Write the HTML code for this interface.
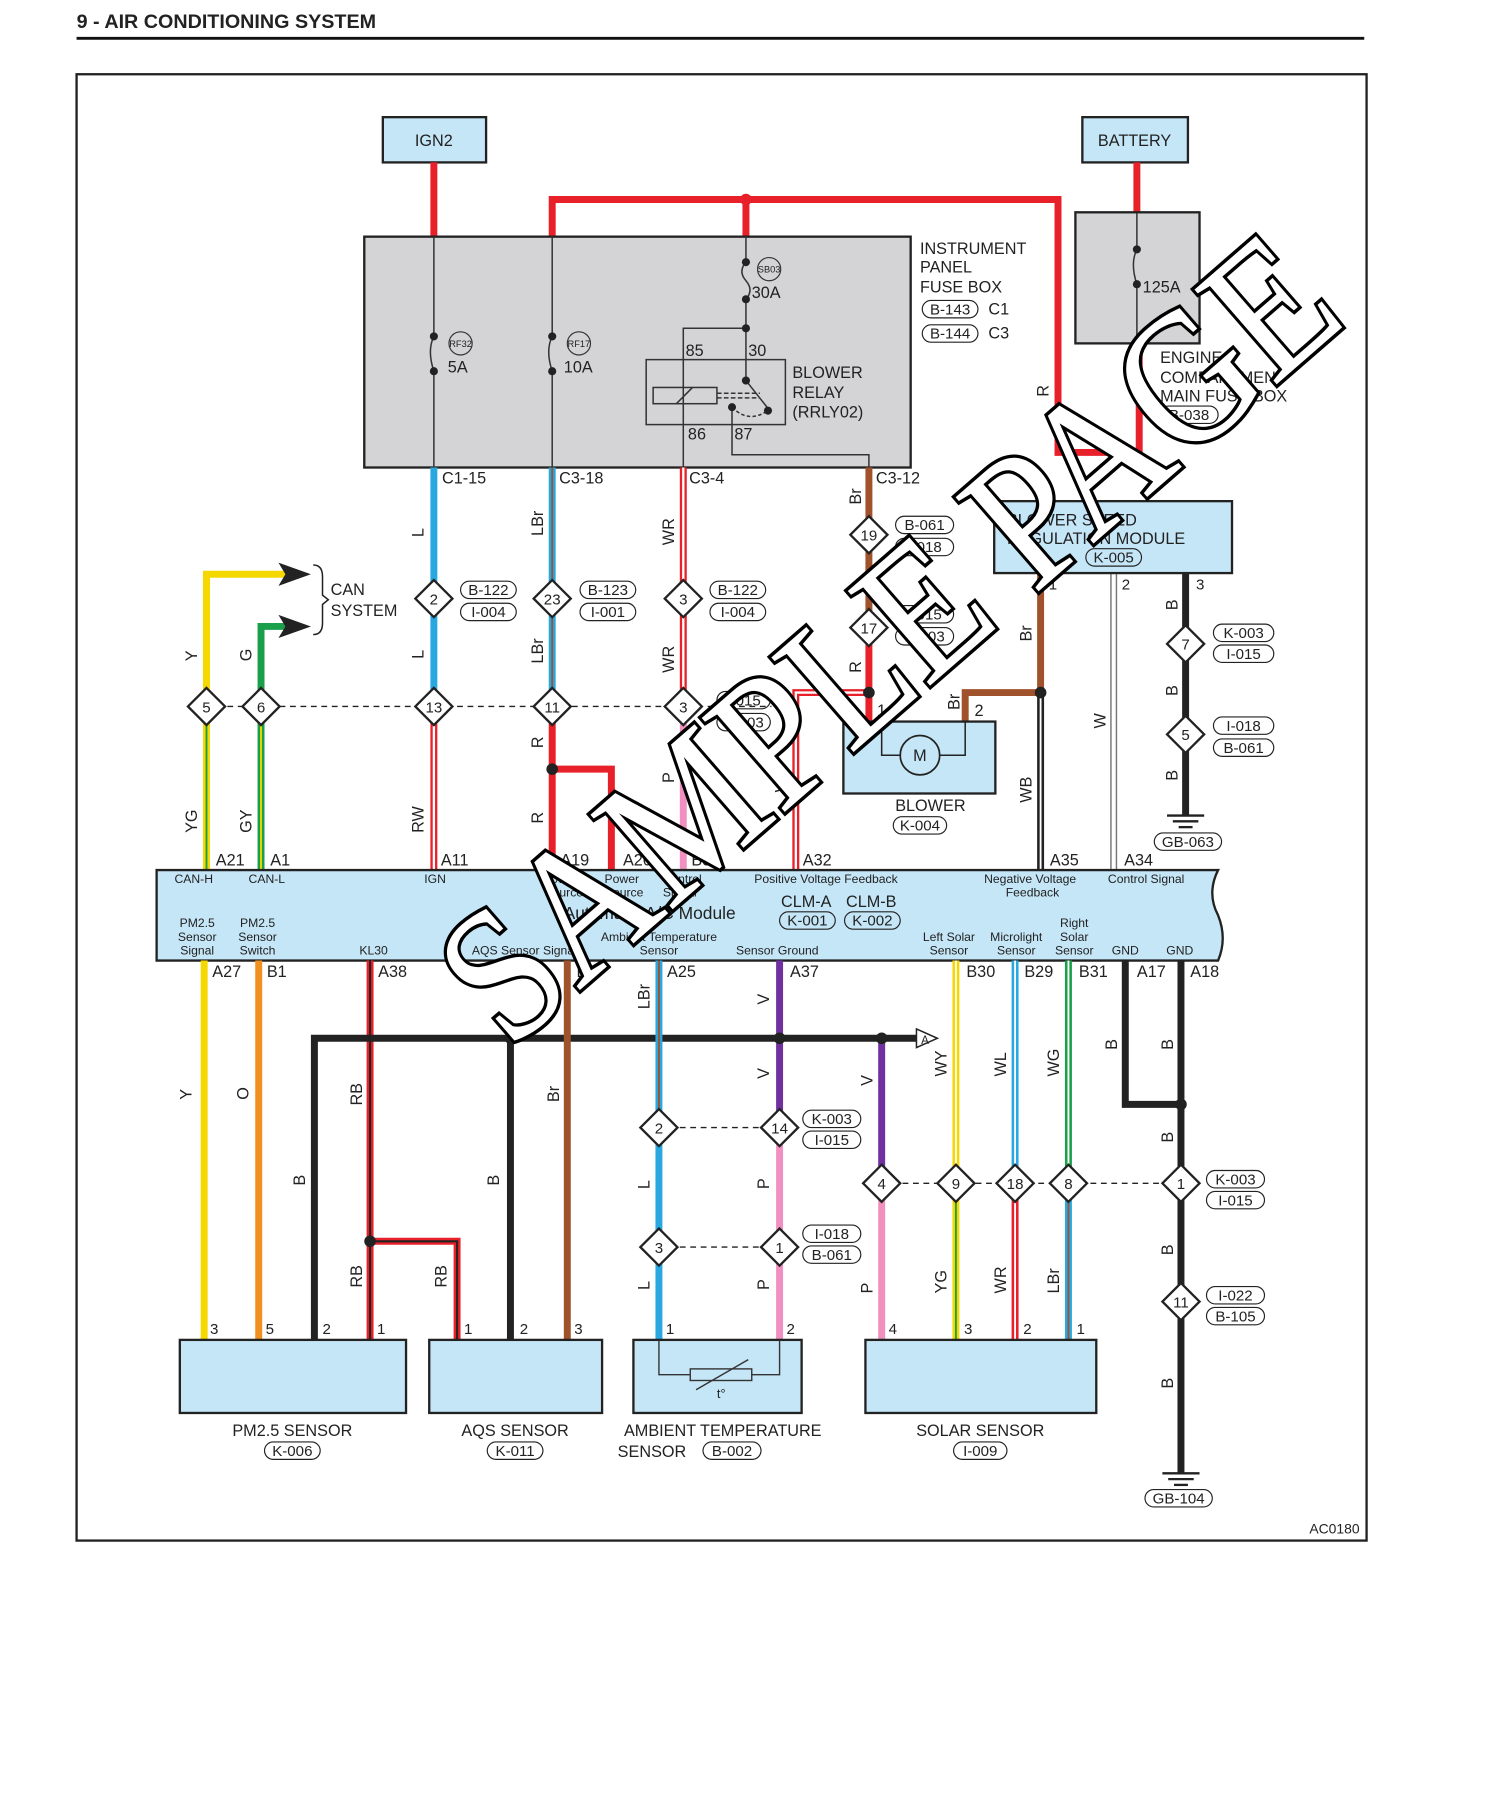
<!DOCTYPE html>
<html><head><meta charset="utf-8"><style>
html,body{margin:0;padding:0;background:#fff}
svg{display:block}
text{font-family:"Liberation Sans",sans-serif;fill:#222}
.s{font-size:14px}.t{font-size:10.5px}.p{font-size:14px}.w{font-size:13px}
</style></head><body>
<svg width="1500" height="1819" viewBox="0 0 1293 1568" xmlns="http://www.w3.org/2000/svg">
<rect width="1293" height="1568" fill="#fff"/>
<text x="66" y="24" style="font-size:17px;font-weight:bold">9 - AIR CONDITIONING SYSTEM</text>
<line x1="66" y1="33" x2="1176" y2="33" stroke="#111" stroke-width="2.5"/>
<rect x="66" y="64" width="1112" height="1264" fill="none" stroke="#222" stroke-width="2"/>

<rect x="330" y="101" width="89" height="39" fill="#c5e6f7" stroke="#222" stroke-width="2"/>
<text x="374" y="126" class="s" text-anchor="middle">IGN2</text>
<rect x="933" y="101" width="91" height="39" fill="#c5e6f7" stroke="#222" stroke-width="2"/>
<text x="978" y="126" class="s" text-anchor="middle">BATTERY</text>

<g stroke="#e8202a" stroke-width="6" fill="none">
<line x1="374" y1="140" x2="374" y2="204"/>
<line x1="980" y1="140" x2="980" y2="184"/>
<polyline points="476,204 476,172 912,172 912,390 982,390 982,296"/>
<line x1="643" y1="172" x2="643" y2="204"/>
</g>
<circle cx="643" cy="172" r="5" fill="#e8202a"/>

<rect x="314" y="204" width="471" height="199" fill="#d4d4d6" stroke="#222" stroke-width="2"/>
<g stroke="#333" stroke-width="1.3" fill="none">
<line x1="374" y1="204" x2="374" y2="290"/><path d="M374 290 q-6 12 0 30"/><line x1="374" y1="320" x2="374" y2="403"/>
<line x1="476" y1="204" x2="476" y2="290"/><path d="M476 290 q-6 12 0 30"/><line x1="476" y1="320" x2="476" y2="403"/>
<line x1="643" y1="204" x2="643" y2="226"/><path d="M643 226 q-7 8 0 16 q7 8 0 16"/><line x1="643" y1="258" x2="643" y2="328"/>
<polyline points="643,283 589,283 589,403"/>
<rect x="557" y="310" width="120" height="56"/>
<rect x="563" y="334" width="55" height="14"/>
<line x1="583" y1="348" x2="597" y2="334"/>
<line x1="618" y1="339" x2="655" y2="339" stroke-dasharray="4,2"/>
<line x1="618" y1="343" x2="655" y2="343" stroke-dasharray="4,2"/>
<line x1="643" y1="328" x2="662" y2="352"/>
<path d="M631 351 q15 15 32 2" stroke-dasharray="3,2"/>
<polyline points="631,351 631,392 749,392 749,403"/>
</g>
<g fill="#222">
<circle cx="374" cy="290" r="3.5"/><circle cx="374" cy="320" r="3.5"/>
<circle cx="476" cy="290" r="3.5"/><circle cx="476" cy="320" r="3.5"/>
<circle cx="643" cy="226" r="3.5"/><circle cx="643" cy="258" r="3.5"/><circle cx="643" cy="283" r="3.5"/>
<circle cx="643" cy="328" r="3.5"/><circle cx="662" cy="354" r="3.5"/><circle cx="631" cy="351" r="3.5"/>
</g>
<g fill="none" stroke="#333" stroke-width="1"><circle cx="397" cy="296" r="10"/><circle cx="499" cy="296" r="10"/><circle cx="663" cy="232" r="10"/><circle cx="1003" cy="227" r="10"/></g>
<text x="397" y="299" style="font-size:8px" text-anchor="middle">RF32</text>
<text x="499" y="299" style="font-size:8px" text-anchor="middle">RF17</text>
<text x="663" y="235" style="font-size:8px" text-anchor="middle">SB03</text>
<text x="1003" y="230" style="font-size:8px" text-anchor="middle">MF03</text>
<text x="386" y="321" class="s">5A</text><text x="486" y="321" class="s">10A</text><text x="648" y="257" class="s">30A</text>
<text x="591" y="307" class="s">85</text><text x="645" y="307" class="s">30</text>
<text x="593" y="379" class="s">86</text><text x="633" y="379" class="s">87</text>
<text x="683" y="326" class="s">BLOWER</text><text x="683" y="343" class="s">RELAY</text><text x="683" y="360" class="s">(RRLY02)</text>
<text x="793" y="219" class="s">INSTRUMENT</text><text x="793" y="235" class="s">PANEL</text><text x="793" y="252" class="s">FUSE BOX</text>
<rect x="795" y="259" width="48" height="15" rx="7.5" fill="none" stroke="#222"/><text x="819" y="271" class="w" text-anchor="middle">B-143</text><text x="852" y="271" class="s">C1</text>
<rect x="795" y="280" width="48" height="15" rx="7.5" fill="none" stroke="#222"/><text x="819" y="292" class="w" text-anchor="middle">B-144</text><text x="852" y="292" class="s">C3</text>

<rect x="927" y="183" width="107" height="113" fill="#d4d4d6" stroke="#222" stroke-width="2"/>
<g stroke="#333" stroke-width="1.3" fill="none"><line x1="980" y1="184" x2="980" y2="215"/><path d="M980 215 q-6 12 0 30"/><line x1="980" y1="245" x2="980" y2="296"/></g>
<circle cx="980" cy="215" r="3.5" fill="#222"/><circle cx="980" cy="245" r="3.5" fill="#222"/>
<text x="985" y="252" class="s">125A</text>
<text x="1000" y="313" class="s">ENGINE</text><text x="1000" y="330" class="s">COMPARTMENT</text><text x="1000" y="346" class="s">MAIN FUSE BOX</text>
<rect x="1000" y="350" width="50" height="15" rx="7.5" fill="none" stroke="#222"/><text x="1025" y="362" class="w" text-anchor="middle">B-038</text>
<text x="904" y="342" class="s" transform="rotate(-90 904 342)">R</text>

<g fill="none">
<line x1="374" y1="403" x2="374" y2="609" stroke="#29a8e0" stroke-width="6"/>
<line x1="374" y1="609" x2="374" y2="750" stroke="#e8202a" stroke-width="6"/><line x1="374" y1="609" x2="374" y2="750" stroke="#fff" stroke-width="2"/>
<line x1="476" y1="403" x2="476" y2="609" stroke="#29a8e0" stroke-width="6"/><line x1="476" y1="403" x2="476" y2="609" stroke="#a0522d" stroke-width="1.6"/>
<polyline points="476,609 476,750" stroke="#e8202a" stroke-width="6"/>
<polyline points="476,663 527,663 527,750" stroke="#e8202a" stroke-width="6"/>
<line x1="589" y1="403" x2="589" y2="609" stroke="#e8202a" stroke-width="6"/><line x1="589" y1="403" x2="589" y2="609" stroke="#fff" stroke-width="2"/>
<line x1="589" y1="609" x2="589" y2="750" stroke="#f090c0" stroke-width="6"/>
<line x1="749" y1="403" x2="749" y2="541" stroke="#a0522d" stroke-width="6"/>
<line x1="749" y1="541" x2="749" y2="622" stroke="#e8202a" stroke-width="6"/>
<polyline points="749,597 686,597 686,750" stroke="#e8202a" stroke-width="6"/><polyline points="749,597 686,597 686,750" stroke="#fff" stroke-width="2"/>
<polyline points="832,622 832,597 897,597" stroke="#a0522d" stroke-width="6"/>
<line x1="897" y1="494" x2="897" y2="597" stroke="#a0522d" stroke-width="6"/>
<line x1="897" y1="597" x2="897" y2="750" stroke="#222" stroke-width="6"/><line x1="897" y1="597" x2="897" y2="750" stroke="#fff" stroke-width="1.6"/>
<line x1="960" y1="494" x2="960" y2="750" stroke="#777" stroke-width="6"/><line x1="960" y1="494" x2="960" y2="750" stroke="#fff" stroke-width="3.5"/>
<line x1="1022" y1="494" x2="1022" y2="703" stroke="#222" stroke-width="6"/>
<polyline points="178,609 178,495 255,495" stroke="#f5d800" stroke-width="6"/>
<polyline points="225,609 225,540 255,540" stroke="#1aa04a" stroke-width="6"/>
<line x1="178" y1="609" x2="178" y2="750" stroke="#f5d800" stroke-width="6"/><line x1="178" y1="609" x2="178" y2="750" stroke="#1aa04a" stroke-width="1.6"/>
<line x1="225" y1="609" x2="225" y2="750" stroke="#1aa04a" stroke-width="6"/><line x1="225" y1="609" x2="225" y2="750" stroke="#f5d800" stroke-width="1.6"/>
<line x1="178" y1="609" x2="665" y2="609" stroke="#222" stroke-width="1.2" stroke-dasharray="5,4"/>
</g>
<polygon points="268,495 240,485 246,495 240,505" fill="#222"/>
<polygon points="268,540 240,530 246,540 240,550" fill="#222"/>
<path d="M270 487 q8 0 8 10 v16 l5 4 l-5 4 v16 q0 10 -8 10" fill="none" stroke="#222" stroke-width="1.3"/>
<text x="285" y="513" class="s">CAN</text><text x="285" y="531" class="s">SYSTEM</text>
<circle cx="476" cy="663" r="5" fill="#222"/><circle cx="749" cy="597" r="5" fill="#222"/><circle cx="897" cy="597" r="5" fill="#222"/>

<rect x="727" y="622" width="131" height="62" fill="#c5e6f7" stroke="#222" stroke-width="2"/>
<polyline points="760,622 760,651 776,651" fill="none" stroke="#222" stroke-width="1.3"/>
<polyline points="810,651 832,651 832,622" fill="none" stroke="#222" stroke-width="1.3"/>
<circle cx="793" cy="651" r="17" fill="#c5e6f7" stroke="#222" stroke-width="1.5"/>
<text x="793" y="656" class="s" text-anchor="middle">M</text>
<text x="756" y="617" class="s">1</text><text x="840" y="617" class="s">2</text>
<text x="802" y="699" class="s" text-anchor="middle">BLOWER</text>
<rect x="770" y="704" width="46" height="15" rx="7.5" fill="none" stroke="#222"/><text x="793" y="716" class="w" text-anchor="middle">K-004</text>

<rect x="857" y="432" width="205" height="62" fill="#c5e6f7" stroke="#222" stroke-width="2"/>
<text x="868" y="453" class="s">BLOWER SPEED</text><text x="868" y="469" class="s">REGULATION MODULE</text>
<rect x="936" y="473" width="48" height="15" rx="7.5" fill="none" stroke="#222"/><text x="960" y="485" class="w" text-anchor="middle">K-005</text>
<text x="904" y="508" class="w">1</text><text x="967" y="508" class="w">2</text><text x="1031" y="508" class="w">3</text>

<g stroke="#222" stroke-width="2"><line x1="1006" y1="703" x2="1038" y2="703"/><line x1="1011" y1="708" x2="1033" y2="708"/><line x1="1016" y1="713" x2="1028" y2="713"/></g>
<rect x="995" y="718" width="58" height="15" rx="7.5" fill="none" stroke="#222"/><text x="1024" y="730" class="w" text-anchor="middle">GB-063</text>

<g class="s">
<text transform="translate(365,463) rotate(-90)">L</text><text transform="translate(365,568) rotate(-90)">L</text><text transform="translate(365,718) rotate(-90)">RW</text>
<text transform="translate(468,462) rotate(-90)">LBr</text><text transform="translate(468,572) rotate(-90)">LBr</text><text transform="translate(468,645) rotate(-90)">R</text><text transform="translate(468,710) rotate(-90)">R</text>
<text transform="translate(581,470) rotate(-90)">WR</text><text transform="translate(581,580) rotate(-90)">WR</text><text transform="translate(581,675) rotate(-90)">P</text>
<text transform="translate(742,435) rotate(-90)">Br</text><text transform="translate(742,580) rotate(-90)">R</text><text transform="translate(678,683) rotate(-90)">WR</text>
<text transform="translate(889,553) rotate(-90)">Br</text><text transform="translate(827,612) rotate(-90)">Br</text><text transform="translate(889,692) rotate(-90)">WB</text>
<text transform="translate(953,628) rotate(-90)">W</text>
<text transform="translate(1015,526) rotate(-90)">B</text><text transform="translate(1015,600) rotate(-90)">B</text><text transform="translate(1015,673) rotate(-90)">B</text>
<text transform="translate(170,570) rotate(-90)">Y</text><text transform="translate(217,570) rotate(-90)">G</text>
<text transform="translate(170,718) rotate(-90)">YG</text><text transform="translate(217,718) rotate(-90)">GY</text>
</g>
<text x="381" y="417" class="s">C1-15</text><text x="482" y="417" class="s">C3-18</text><text x="594" y="417" class="s">C3-4</text><text x="755" y="417" class="s">C3-12</text>

<g fill="#fff" stroke="#222" stroke-width="2">
<polygon points="374,500 390,516 374,532 358,516"/><polygon points="476,500 492,516 476,532 460,516"/><polygon points="589,500 605,516 589,532 573,516"/>
<polygon points="178,593 194,609 178,625 162,609"/><polygon points="225,593 241,609 225,625 209,609"/>
<polygon points="374,593 390,609 374,625 358,609"/><polygon points="476,593 492,609 476,625 460,609"/><polygon points="589,593 605,609 589,625 573,609"/>
<polygon points="749,445 765,461 749,477 733,461"/><polygon points="749,525 765,541 749,557 733,541"/>
<polygon points="1022,539 1038,555 1022,571 1006,555"/><polygon points="1022,617 1038,633 1022,649 1006,633"/>
</g>
<g class="w" text-anchor="middle">
<text x="374" y="521">2</text><text x="476" y="521">23</text><text x="589" y="521">3</text>
<text x="178" y="614">5</text><text x="225" y="614">6</text><text x="374" y="614">13</text><text x="476" y="614">11</text><text x="589" y="614">3</text>
<text x="749" y="466">19</text><text x="749" y="546">17</text><text x="1022" y="560">7</text><text x="1022" y="638">5</text>
</g>
<g fill="none" stroke="#222">
<rect x="397" y="501" width="48" height="15" rx="7.5"/><rect x="397" y="520" width="48" height="15" rx="7.5"/>
<rect x="500" y="501" width="48" height="15" rx="7.5"/><rect x="500" y="520" width="48" height="15" rx="7.5"/>
<rect x="612" y="501" width="48" height="15" rx="7.5"/><rect x="612" y="520" width="48" height="15" rx="7.5"/>
<rect x="618" y="596" width="46" height="15" rx="7.5"/><rect x="618" y="615" width="46" height="15" rx="7.5"/>
<rect x="772" y="445" width="50" height="15" rx="7.5"/><rect x="772" y="464" width="50" height="15" rx="7.5"/>
<rect x="772" y="522" width="50" height="15" rx="7.5"/><rect x="772" y="541" width="50" height="15" rx="7.5"/>
<rect x="1046" y="538" width="52" height="15" rx="7.5"/><rect x="1046" y="556" width="52" height="15" rx="7.5"/>
<rect x="1046" y="618" width="52" height="15" rx="7.5"/><rect x="1046" y="637" width="52" height="15" rx="7.5"/>
</g>
<g class="w" text-anchor="middle">
<text x="421" y="513">B-122</text><text x="421" y="532">I-004</text>
<text x="524" y="513">B-123</text><text x="524" y="532">I-001</text>
<text x="636" y="513">B-122</text><text x="636" y="532">I-004</text>
<text x="641" y="608">I-015</text><text x="641" y="627">K-003</text>
<text x="797" y="457">B-061</text><text x="797" y="476">I-018</text>
<text x="797" y="534">I-015</text><text x="797" y="553">K-003</text>
<text x="1072" y="550">K-003</text><text x="1072" y="568">I-015</text>
<text x="1072" y="630">I-018</text><text x="1072" y="649">B-061</text>
</g>

<path d="M135 750 H1050 q-10 20 0 39 q8 20 0 39 H135 Z" fill="#c5e6f7" stroke="#222" stroke-width="2"/>
<g class="p">
<text x="186" y="746">A21</text><text x="233" y="746">A1</text><text x="380" y="746">A11</text><text x="483" y="746">A19</text><text x="537" y="746">A20</text><text x="596" y="746">B34</text><text x="692" y="746">A32</text><text x="905" y="746">A35</text><text x="969" y="746">A34</text>
<text x="183" y="842">A27</text><text x="230" y="842">B1</text><text x="326" y="842">A38</text><text x="497" y="842">B2</text><text x="575" y="842">A25</text><text x="681" y="842">A37</text><text x="833" y="842">B30</text><text x="883" y="842">B29</text><text x="930" y="842">B31</text><text x="980" y="842">A17</text><text x="1026" y="842">A18</text>
</g>
<g class="t" text-anchor="middle">
<text x="167" y="761">CAN-H</text><text x="230" y="761">CAN-L</text><text x="375" y="761">IGN</text>
<text x="483" y="761">Power</text><text x="486" y="773">Source</text><text x="536" y="761">Power</text><text x="538" y="773">Source</text>
<text x="588" y="761">Control</text><text x="586" y="773">Signal</text>
<text x="712" y="761">Positive Voltage Feedback</text>
<text x="888" y="761">Negative Voltage</text><text x="890" y="773">Feedback</text>
<text x="988" y="761">Control Signal</text>
<text x="170" y="799">PM2.5</text><text x="170" y="811">Sensor</text><text x="170" y="823">Signal</text>
<text x="222" y="799">PM2.5</text><text x="222" y="811">Sensor</text><text x="222" y="823">Switch</text>
<text x="322" y="823">KL30</text><text x="452" y="823">AQS Sensor Signal</text>
<text x="568" y="811">Ambient Temperature</text><text x="568" y="823">Sensor</text>
<text x="670" y="823">Sensor Ground</text>
<text x="818" y="811">Left Solar</text><text x="818" y="823">Sensor</text>
<text x="876" y="811">Microlight</text><text x="876" y="823">Sensor</text>
<text x="926" y="799">Right</text><text x="926" y="811">Solar</text><text x="926" y="823">Sensor</text>
<text x="970" y="823">GND</text><text x="1017" y="823">GND</text>
</g>
<text x="560" y="792" style="font-size:15px" text-anchor="middle">Automatic A/C Module</text>
<text x="695" y="782" style="font-size:14px" text-anchor="middle">CLM-A</text><text x="751" y="782" style="font-size:14px" text-anchor="middle">CLM-B</text>
<rect x="672" y="786" width="48" height="15" rx="7.5" fill="none" stroke="#222"/><text x="696" y="798" class="w" text-anchor="middle">K-001</text>
<rect x="728" y="786" width="48" height="15" rx="7.5" fill="none" stroke="#222"/><text x="752" y="798" class="w" text-anchor="middle">K-002</text>

<g fill="none">
<line x1="176" y1="828" x2="176" y2="1155" stroke="#f5d800" stroke-width="6"/>
<line x1="223" y1="828" x2="223" y2="1155" stroke="#f09020" stroke-width="6"/>
<line x1="319" y1="828" x2="319" y2="1155" stroke="#e8202a" stroke-width="6"/><line x1="319" y1="828" x2="319" y2="1155" stroke="#222" stroke-width="1.8"/>
<polyline points="319,1070 394,1070 394,1155" stroke="#e8202a" stroke-width="6"/><polyline points="319,1070 394,1070 394,1155" stroke="#222" stroke-width="1.8"/>
<polyline points="271,1155 271,895 790,895" stroke="#222" stroke-width="6"/>
<line x1="440" y1="895" x2="440" y2="1155" stroke="#222" stroke-width="6"/>
<line x1="489" y1="828" x2="489" y2="1155" stroke="#a0522d" stroke-width="6"/>
<line x1="568" y1="828" x2="568" y2="972" stroke="#29a8e0" stroke-width="6"/><line x1="568" y1="828" x2="568" y2="972" stroke="#a0522d" stroke-width="1.6"/>
<line x1="568" y1="972" x2="568" y2="1155" stroke="#29a8e0" stroke-width="6"/>
<line x1="672" y1="828" x2="672" y2="972" stroke="#7030a0" stroke-width="6"/>
<line x1="672" y1="972" x2="672" y2="1155" stroke="#f090c0" stroke-width="6"/>
<line x1="760" y1="895" x2="760" y2="1020" stroke="#7030a0" stroke-width="6"/>
<line x1="760" y1="1020" x2="760" y2="1155" stroke="#f090c0" stroke-width="6"/>
<line x1="824" y1="828" x2="824" y2="1020" stroke="#f5d800" stroke-width="6"/><line x1="824" y1="828" x2="824" y2="1020" stroke="#fff" stroke-width="1.6"/>
<line x1="824" y1="1020" x2="824" y2="1155" stroke="#f5d800" stroke-width="6"/><line x1="824" y1="1020" x2="824" y2="1155" stroke="#1aa04a" stroke-width="1.6"/>
<line x1="875" y1="828" x2="875" y2="1020" stroke="#29a8e0" stroke-width="6"/><line x1="875" y1="828" x2="875" y2="1020" stroke="#fff" stroke-width="1.6"/>
<line x1="875" y1="1020" x2="875" y2="1155" stroke="#e8202a" stroke-width="6"/><line x1="875" y1="1020" x2="875" y2="1155" stroke="#fff" stroke-width="1.6"/>
<line x1="921" y1="828" x2="921" y2="1020" stroke="#1aa04a" stroke-width="6"/><line x1="921" y1="828" x2="921" y2="1020" stroke="#fff" stroke-width="1.6"/>
<line x1="921" y1="1020" x2="921" y2="1155" stroke="#29a8e0" stroke-width="6"/><line x1="921" y1="1020" x2="921" y2="1155" stroke="#a0522d" stroke-width="1.6"/>
<polyline points="970,828 970,952 1018,952" stroke="#222" stroke-width="6"/>
<line x1="1018" y1="828" x2="1018" y2="1270" stroke="#222" stroke-width="6"/>
<g stroke="#222" stroke-width="1.2" stroke-dasharray="5,4"><line x1="568" y1="972" x2="672" y2="972"/><line x1="568" y1="1075" x2="672" y2="1075"/><line x1="760" y1="1020" x2="1018" y2="1020"/></g>
</g>
<polygon points="790,887 808,895 790,903" fill="#fff" stroke="#222" stroke-width="1.3"/><text x="794" y="900" style="font-size:10px">A</text>
<g fill="#222"><circle cx="319" cy="1070" r="5"/><circle cx="440" cy="895" r="5"/><circle cx="672" cy="895" r="5"/><circle cx="760" cy="895" r="5"/><circle cx="1018" cy="952" r="5"/></g>

<g fill="#fff" stroke="#222" stroke-width="2">
<polygon points="568,956 584,972 568,988 552,972"/><polygon points="672,956 688,972 672,988 656,972"/>
<polygon points="568,1059 584,1075 568,1091 552,1075"/><polygon points="672,1059 688,1075 672,1091 656,1075"/>
<polygon points="760,1004 776,1020 760,1036 744,1020"/><polygon points="824,1004 840,1020 824,1036 808,1020"/>
<polygon points="875,1004 891,1020 875,1036 859,1020"/><polygon points="921,1004 937,1020 921,1036 905,1020"/>
<polygon points="1018,1004 1034,1020 1018,1036 1002,1020"/><polygon points="1018,1106 1034,1122 1018,1138 1002,1122"/>
</g>
<g class="w" text-anchor="middle">
<text x="568" y="977">2</text><text x="672" y="977">14</text><text x="568" y="1080">3</text><text x="672" y="1080">1</text>
<text x="760" y="1025">4</text><text x="824" y="1025">9</text><text x="875" y="1025">18</text><text x="921" y="1025">8</text>
<text x="1018" y="1025">1</text><text x="1018" y="1127">11</text>
</g>
<g fill="none" stroke="#222">
<rect x="692" y="957" width="50" height="15" rx="7.5"/><rect x="692" y="975" width="50" height="15" rx="7.5"/>
<rect x="692" y="1056" width="50" height="15" rx="7.5"/><rect x="692" y="1074" width="50" height="15" rx="7.5"/>
<rect x="1040" y="1009" width="50" height="15" rx="7.5"/><rect x="1040" y="1027" width="50" height="15" rx="7.5"/>
<rect x="1040" y="1109" width="50" height="15" rx="7.5"/><rect x="1040" y="1127" width="50" height="15" rx="7.5"/>
</g>
<g class="w" text-anchor="middle">
<text x="717" y="969">K-003</text><text x="717" y="987">I-015</text>
<text x="717" y="1068">I-018</text><text x="717" y="1086">B-061</text>
<text x="1065" y="1021">K-003</text><text x="1065" y="1039">I-015</text>
<text x="1065" y="1121">I-022</text><text x="1065" y="1139">B-105</text>
</g>
<g class="s">
<text transform="translate(165,948) rotate(-90)">Y</text><text transform="translate(214,948) rotate(-90)">O</text>
<text transform="translate(312,953) rotate(-90)">RB</text><text transform="translate(312,1110) rotate(-90)">RB</text><text transform="translate(385,1110) rotate(-90)">RB</text>
<text transform="translate(263,1022) rotate(-90)">B</text><text transform="translate(430,1022) rotate(-90)">B</text>
<text transform="translate(482,950) rotate(-90)">Br</text>
<text transform="translate(560,870) rotate(-90)">LBr</text><text transform="translate(560,1025) rotate(-90)">L</text><text transform="translate(560,1112) rotate(-90)">L</text>
<text transform="translate(663,866) rotate(-90)">V</text><text transform="translate(663,930) rotate(-90)">V</text><text transform="translate(663,1025) rotate(-90)">P</text><text transform="translate(663,1112) rotate(-90)">P</text>
<text transform="translate(752,936) rotate(-90)">V</text><text transform="translate(752,1115) rotate(-90)">P</text>
<text transform="translate(816,928) rotate(-90)">WY</text><text transform="translate(816,1115) rotate(-90)">YG</text>
<text transform="translate(867,928) rotate(-90)">WL</text><text transform="translate(867,1115) rotate(-90)">WR</text>
<text transform="translate(913,928) rotate(-90)">WG</text><text transform="translate(913,1115) rotate(-90)">LBr</text>
<text transform="translate(963,905) rotate(-90)">B</text><text transform="translate(1011,905) rotate(-90)">B</text><text transform="translate(1011,985) rotate(-90)">B</text><text transform="translate(1011,1082) rotate(-90)">B</text><text transform="translate(1011,1197) rotate(-90)">B</text>
</g>

<g fill="#c5e6f7" stroke="#222" stroke-width="2">
<rect x="155" y="1155" width="195" height="63"/><rect x="370" y="1155" width="149" height="63"/><rect x="546" y="1155" width="145" height="63"/><rect x="746" y="1155" width="199" height="63"/>
</g>
<g fill="none" stroke="#333" stroke-width="1.2">
<polyline points="568,1155 568,1185 595,1185"/><polyline points="648,1185 672,1185 672,1155"/>
<rect x="595" y="1180" width="53" height="10"/><line x1="600" y1="1198" x2="645" y2="1172"/>
</g>
<text x="618" y="1205" style="font-size:11px">t°</text>
<g class="w">
<text x="181" y="1150">3</text><text x="229" y="1150">5</text><text x="278" y="1150">2</text><text x="325" y="1150">1</text>
<text x="400" y="1150">1</text><text x="448" y="1150">2</text><text x="495" y="1150">3</text>
<text x="574" y="1150">1</text><text x="678" y="1150">2</text>
<text x="766" y="1150">4</text><text x="831" y="1150">3</text><text x="882" y="1150">2</text><text x="928" y="1150">1</text>
</g>
<g class="s" text-anchor="middle">
<text x="252" y="1238">PM2.5 SENSOR</text><text x="444" y="1238">AQS SENSOR</text><text x="623" y="1238">AMBIENT TEMPERATURE</text><text x="562" y="1256">SENSOR</text><text x="845" y="1238">SOLAR SENSOR</text>
</g>
<g fill="none" stroke="#222">
<rect x="228" y="1243" width="48" height="15" rx="7.5"/><rect x="420" y="1243" width="48" height="15" rx="7.5"/><rect x="606" y="1243" width="50" height="15" rx="7.5"/><rect x="822" y="1243" width="46" height="15" rx="7.5"/>
<rect x="987" y="1284" width="58" height="15" rx="7.5"/>
</g>
<g class="w" text-anchor="middle">
<text x="252" y="1255">K-006</text><text x="444" y="1255">K-011</text><text x="631" y="1255">B-002</text><text x="845" y="1255">I-009</text><text x="1016" y="1296">GB-104</text>
</g>
<g stroke="#222" stroke-width="2"><line x1="1002" y1="1270" x2="1034" y2="1270"/><line x1="1007" y1="1275" x2="1029" y2="1275"/><line x1="1012" y1="1280" x2="1024" y2="1280"/></g>
<text x="1172" y="1322" style="font-size:12px" text-anchor="end">AC0180</text>

<text x="765" y="605" transform="rotate(-41 765 550)" text-anchor="middle" textLength="960" lengthAdjust="spacingAndGlyphs" style="font-family:'Liberation Serif',serif;font-size:165px;fill:#fff;stroke:#000;stroke-width:6;paint-order:stroke">SAMPLE PAGE</text>
</svg>
</body></html>
